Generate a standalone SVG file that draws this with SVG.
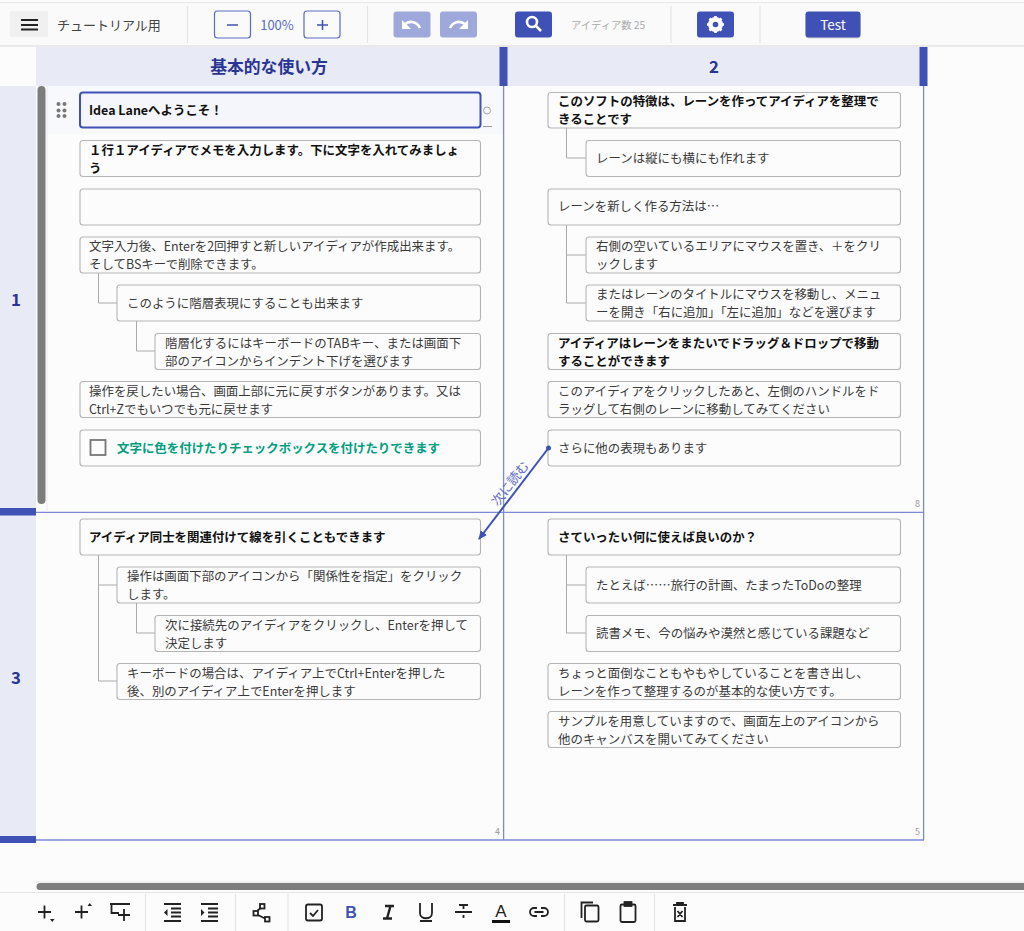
<svg xmlns="http://www.w3.org/2000/svg" width="1024" height="931" viewBox="0 0 1024 931">
<defs>
<style>
text{font-family:"Noto Sans CJK JP","Noto Sans",sans-serif;font-size:12.45px;fill:#3a3a3a}
.b{font-weight:700;fill:#111}
.n{fill:#fcfcfc;stroke:#b5b5b5;stroke-width:1.100}
.h{font-size:16.800px;font-weight:700;fill:#283593;text-anchor:middle}
.lane{fill:none;stroke:#7c89d4;stroke-width:1.300}
.tree{fill:none;stroke:#aaa;stroke-width:1}
.sep{stroke:#e4e4e4;stroke-width:1.200}
.btn{fill:#3f51b5}
.dis{fill:#9fa8da}
.ol{fill:#fafafa;stroke:#5c6bc0;stroke-width:1.200}
.ic{fill:none;stroke:#222;stroke-width:1.800}
.w{fill:none;stroke:#fff;stroke-width:2.600}
</style>
<marker id="ah" markerWidth="10" markerHeight="10" refX="8" refY="4" orient="auto" markerUnits="userSpaceOnUse"><path d="M0,0L9,4L0,8z" fill="#3f51b5"/></marker>
</defs>
<rect width="1024" height="931" fill="#fcfcfc"/>
<g id="toolbar">
<rect y="2" width="1024" height="44" fill="#fafafa"/>
<path d="M0 2.500H1024" stroke="#e8e8e8"/>
<path d="M0 46H1024" stroke="#d8d8d8" stroke-width="1.200"/>
<rect x="10" y="11" width="38" height="26" fill="#f0f0f0"/>
<path d="M21 20H38M21 25H38M21 29.500H38" stroke="#222" stroke-width="2"/>
<text x="57" y="30" style="font-size:13px;fill:#444">チュートリアル用</text>
<path class="sep" d="M187.500 6V43M367.500 6V43M671 6V43M760 6V43"/>
<rect class="ol" x="214.500" y="11" width="36" height="27" rx="3"/>
<path d="M227 25H238" stroke="#3f51b5" stroke-width="1.500"/>
<text x="277" y="30" text-anchor="middle" style="font-size:13px;fill:#5c6bc0">100%</text>
<rect class="ol" x="304" y="11" width="36" height="27" rx="3"/>
<path d="M317 25H328M322.500 20V30" stroke="#3f51b5" stroke-width="1.500"/>
<rect class="dis" x="393.500" y="11.500" width="37" height="26" rx="3"/>
<path class="w" d="M405 24C411 20 417 22 420 28"/><path d="M402 20V29H411z" fill="#fff"/>
<rect class="dis" x="440" y="11.500" width="37" height="26" rx="3"/>
<path class="w" d="M465 24C459 20 453 22 450 28"/><path d="M468 20V29H459z" fill="#fff"/>
<rect class="btn" x="515" y="11.500" width="37" height="26" rx="3"/>
<circle cx="532" cy="22" r="5" class="w"/><path class="w" d="M536 26L541 31"/>
<text x="571" y="29" style="font-size:10.300px;fill:#aaa">アイディア数 25</text>
<rect class="btn" x="697" y="11.500" width="37" height="26" rx="3"/>
<circle cx="715.500" cy="24.500" r="5.500" fill="none" stroke="#fff" stroke-width="4"/>
<path d="M715.500 16V33M707 24.500H724M709.500 18.500L721.500 30.500M721.500 18.500L709.500 30.500" stroke="#fff" stroke-width="2.600"/>
<circle cx="715.500" cy="24.500" r="2.800" fill="#3f51b5"/>
<rect x="805.500" y="12.500" width="55" height="26" rx="3" fill="#bbb" opacity=".6"/>
<rect class="btn" x="805.500" y="11.500" width="55" height="26" rx="3"/>
<text x="833" y="30" text-anchor="middle" style="font-size:13.500px;fill:#fff">Test</text>
</g>
<g id="lanes">
<rect x="36" y="47" width="888" height="39" fill="#e8eaf6"/>
<rect x="0" y="86" width="36" height="757" fill="#e8eaf6"/>
<rect x="47" y="86" width="457" height="48" fill="#f8f9fc"/>
<path class="lane" d="M503.600 86V840M923.600 86V840M36 512.300H924M36 840H924"/>
<path d="M47 86V512" stroke="#ececec"/>
<rect x="499.500" y="47" width="8" height="39" fill="#3f51b5"/>
<rect x="919.500" y="47" width="8" height="39" fill="#3f51b5"/>
<rect x="0" y="508" width="36" height="7.500" fill="#3f51b5"/>
<rect x="0" y="836" width="36" height="7" fill="#3f51b5"/>
<rect x="37.500" y="86" width="8" height="418" rx="4" fill="#7d7d7d"/>
<text class="h" x="269" y="73">基本的な使い方</text>
<text class="h" x="714" y="73">2</text>
<text class="h" x="16" y="306">1</text>
<text class="h" x="16" y="684">3</text>
<text x="915" y="507" style="font-size:9px;fill:#999">8</text>
<text x="495" y="835" style="font-size:9px;fill:#999">4</text>
<text x="915" y="835" style="font-size:9px;fill:#999">5</text>
</g>
<g id="tree-lines">
<path class="tree" d="M98.500 273V303H117M136.500 321V351H155M566.500 128V158H586M566.500 225V303H586M566.500 255H586M98.500 555V681H117M98.500 585H117M136.500 603V633H155M566.500 555V633H586M566.500 585H586"/>
</g>
<g id="n1"><rect x="80" y="92.500" width="400.500" height="35" rx="3" fill="#f5f6fb" stroke="#3f51b5" stroke-width="2"/><text class="b" x="89" y="115">Idea Laneへようこそ！</text></g>
<g id="handle"><g fill="#777"><circle cx="58.500" cy="104" r="2"/><circle cx="64.500" cy="104" r="2"/><circle cx="58.500" cy="110.500" r="2"/><circle cx="64.500" cy="110.500" r="2"/><circle cx="58.500" cy="116" r="2"/><circle cx="64.500" cy="116" r="2"/></g>
<circle cx="487" cy="110.500" r="3.500" fill="none" stroke="#aaa"/><path d="M483 126.500H492" stroke="#999"/></g>
<g id="n2"><rect class="n" x="80" y="140.500" width="400.500" height="36" rx="3"/><text class="b" x="89" y="155">１行１アイディアでメモを入力します。下に文字を入れてみましょ</text><text class="b" x="89" y="173">う</text></g>
<g id="n3"><rect class="n" x="80" y="189" width="400.500" height="36" rx="3"/></g>
<g id="n4"><rect class="n" x="80" y="237" width="400.500" height="36" rx="3"/><text x="89" y="251">文字入力後、Enterを2回押すと新しいアイディアが作成出来ます。</text><text x="89" y="269">そしてBSキーで削除できます。</text></g>
<g id="n5"><rect class="n" x="117" y="285" width="363.500" height="36" rx="3"/><text x="127" y="308">このように階層表現にすることも出来ます</text></g>
<g id="n6"><rect class="n" x="155" y="333.500" width="325.500" height="36" rx="3"/><text x="165" y="348">階層化するにはキーボードのTABキー、または画面下</text><text x="165" y="366">部のアイコンからインデント下げを選びます</text></g>
<g id="n7"><rect class="n" x="80" y="381.500" width="400.500" height="36" rx="3"/><text x="89" y="396">操作を戻したい場合、画面上部に元に戻すボタンがあります。又は</text><text x="89" y="414">Ctrl+Zでもいつでも元に戻せます</text></g>
<g id="n8"><rect class="n" x="80" y="430" width="400.500" height="36" rx="3"/><rect x="90.500" y="440" width="15" height="15" fill="none" stroke="#777" stroke-width="1.800"/><text class="b" x="117" y="453" style="fill:#009e7f">文字に色を付けたりチェックボックスを付けたりできます</text></g>
<g id="n9"><rect class="n" x="80" y="519" width="400.500" height="36" rx="3"/><text class="b" x="89" y="542">アイディア同士を関連付けて線を引くこともできます</text></g>
<g id="n10"><rect class="n" x="117" y="567" width="363.500" height="36" rx="3"/><text x="127" y="581">操作は画面下部のアイコンから「関係性を指定」をクリック</text><text x="127" y="599">します。</text></g>
<g id="n11"><rect class="n" x="155" y="615.500" width="325.500" height="36" rx="3"/><text x="165" y="630">次に接続先のアイディアをクリックし、Enterを押して</text><text x="165" y="648">決定します</text></g>
<g id="n12"><rect class="n" x="117" y="663.500" width="363.500" height="36" rx="3"/><text x="127" y="678">キーボードの場合は、アイディア上でCtrl+Enterを押した</text><text x="127" y="696">後、別のアイディア上でEnterを押します</text></g>
<g id="r1"><rect class="n" x="548" y="92.500" width="352.500" height="35.500" rx="3"/><text class="b" x="558" y="106">このソフトの特徴は、レーンを作ってアイディアを整理で</text><text class="b" x="558" y="124">きることです</text></g>
<g id="r2"><rect class="n" x="586" y="140.500" width="314.500" height="36" rx="3"/><text x="596" y="163">レーンは縦にも横にも作れます</text></g>
<g id="r3"><rect class="n" x="548" y="189" width="352.500" height="36" rx="3"/><text x="558" y="211">レーンを新しく作る方法は…</text></g>
<g id="r4"><rect class="n" x="586" y="237" width="314.500" height="36" rx="3"/><text x="596" y="251">右側の空いているエリアにマウスを置き、＋をクリ</text><text x="596" y="269">ックします</text></g>
<g id="r5"><rect class="n" x="586" y="285" width="314.500" height="36" rx="3"/><text x="596" y="299">またはレーンのタイトルにマウスを移動し、メニュ</text><text x="596" y="317">ーを開き「右に追加」「左に追加」などを選びます</text></g>
<g id="r6"><rect class="n" x="548" y="333.500" width="352.500" height="36" rx="3"/><text class="b" x="558" y="348">アイディアはレーンをまたいでドラッグ＆ドロップで移動</text><text class="b" x="558" y="366">することができます</text></g>
<g id="r7"><rect class="n" x="548" y="381.500" width="352.500" height="36" rx="3"/><text x="558" y="396">このアイディアをクリックしたあと、左側のハンドルをド</text><text x="558" y="414">ラッグして右側のレーンに移動してみてください</text></g>
<g id="r8"><rect class="n" x="548" y="430" width="352.500" height="36" rx="3"/><text x="558" y="453">さらに他の表現もあります</text></g>
<g id="r9"><rect class="n" x="548" y="519" width="352.500" height="36" rx="3"/><text class="b" x="558" y="542">さていったい何に使えば良いのか？</text></g>
<g id="r10"><rect class="n" x="586" y="567" width="314.500" height="36" rx="3"/><text x="596" y="590">たとえば……旅行の計画、たまったToDoの整理</text></g>
<g id="r11"><rect class="n" x="586" y="615.500" width="314.500" height="36" rx="3"/><text x="596" y="638">読書メモ、今の悩みや漠然と感じている課題など</text></g>
<g id="r12"><rect class="n" x="548" y="663.500" width="352.500" height="36" rx="3"/><text x="558" y="678">ちょっと面倒なこともやもやしていることを書き出し、</text><text x="558" y="696">レーンを作って整理するのが基本的な使い方です。</text></g>
<g id="r13"><rect class="n" x="548" y="711.500" width="352.500" height="36" rx="3"/><text x="558" y="726">サンプルを用意していますので、画面左上のアイコンから</text><text x="558" y="744">他のキャンバスを開いてみてください</text></g>
<g id="connectors">
<circle cx="548.500" cy="448" r="2.500" fill="#3f51b5"/>
<path d="M548.500 448L479 539" stroke="#3f51b5" stroke-width="2" fill="none" marker-end="url(#ah)"/>
<text transform="translate(498 507) rotate(-52.600)" style="font-size:13px;fill:#5c6bc0">次に読む</text>
</g>
<g id="bottombar">
<path d="M36 882H1024" stroke="#e4e4e4"/>
<path d="M40 886.500H1024" stroke="#7d7d7d" stroke-width="7" stroke-linecap="round"/>
<path d="M0 892.500H1024" stroke="#e6e6e6"/>
<path class="sep" d="M145.500 894V931M235.500 894V931M288 894V931M564.500 894V931M654.500 894V931"/>
<g class="ic">
<path d="M38 912H51M44.500 905.500V918.500M75 912H88M81.500 905.500V918.500"/>
<path d="M110 904H130M111.500 904V913H119M124 909V921M118 915H130"/>
<path d="M164 904H181M171 908.500H181M171 912.500H181M171 916.500H181M164 921H181M201 904H218M208 908.500H218M208 912.500H218M208 916.500H218M201 921H218"/>
<rect x="260" y="904" width="4.500" height="4.500"/><rect x="253.500" y="911" width="4.500" height="4.500"/><rect x="265" y="917" width="4.500" height="4.500"/>
<path d="M257.500 910.500L261 908M258 915L265 918.500"/>
<rect x="306" y="904.500" width="16" height="16" rx="2"/><path d="M310 913L313 916L318 910"/>
<path d="M420 903V913C420 920 432 920 432 913V903M420 921H432"/>
<path d="M455 912H472M459 905H468M463.500 905V909M463.500 915V918"/>
<path d="M537 908H534a4 4 0 0 0 0 8H537M541 908H544a4 4 0 0 1 0 8H541M534.500 912H543.500"/>
<path d="M581.500 918V902.500H593"/><rect x="585" y="905.500" width="13.500" height="16" rx="1.500"/>
<rect x="620.500" y="904.500" width="15" height="17.500" rx="1.500"/><rect x="624.500" y="902" width="7" height="4" fill="#222"/>
<path d="M673 905H687M675 907V921H685V907M677.500 911L682.500 917M682.500 911L677.500 917M677 905V903H683V905"/>
</g>
<path d="M164 912.500L167.500 909V916zM204.500 912.500L201 909V916zM50 919h4.500l-2.250 3zM87.500 906h4.500l-2.250-3z" fill="#222"/>
<text x="351" y="918" text-anchor="middle" style="font-size:16px;font-weight:700;fill:#3f51b5;font-family:'Liberation Sans',sans-serif">B</text>
<path d="M385 906H394M383 918.500H392M390.500 906L387 918.500" fill="none" stroke="#222" stroke-width="2.400"/>
<text x="501" y="917" text-anchor="middle" style="font-size:17px;fill:#222;font-family:'Liberation Sans',sans-serif">A</text>
<rect x="492" y="920" width="18" height="3" fill="#111"/>
</g>
</svg>
